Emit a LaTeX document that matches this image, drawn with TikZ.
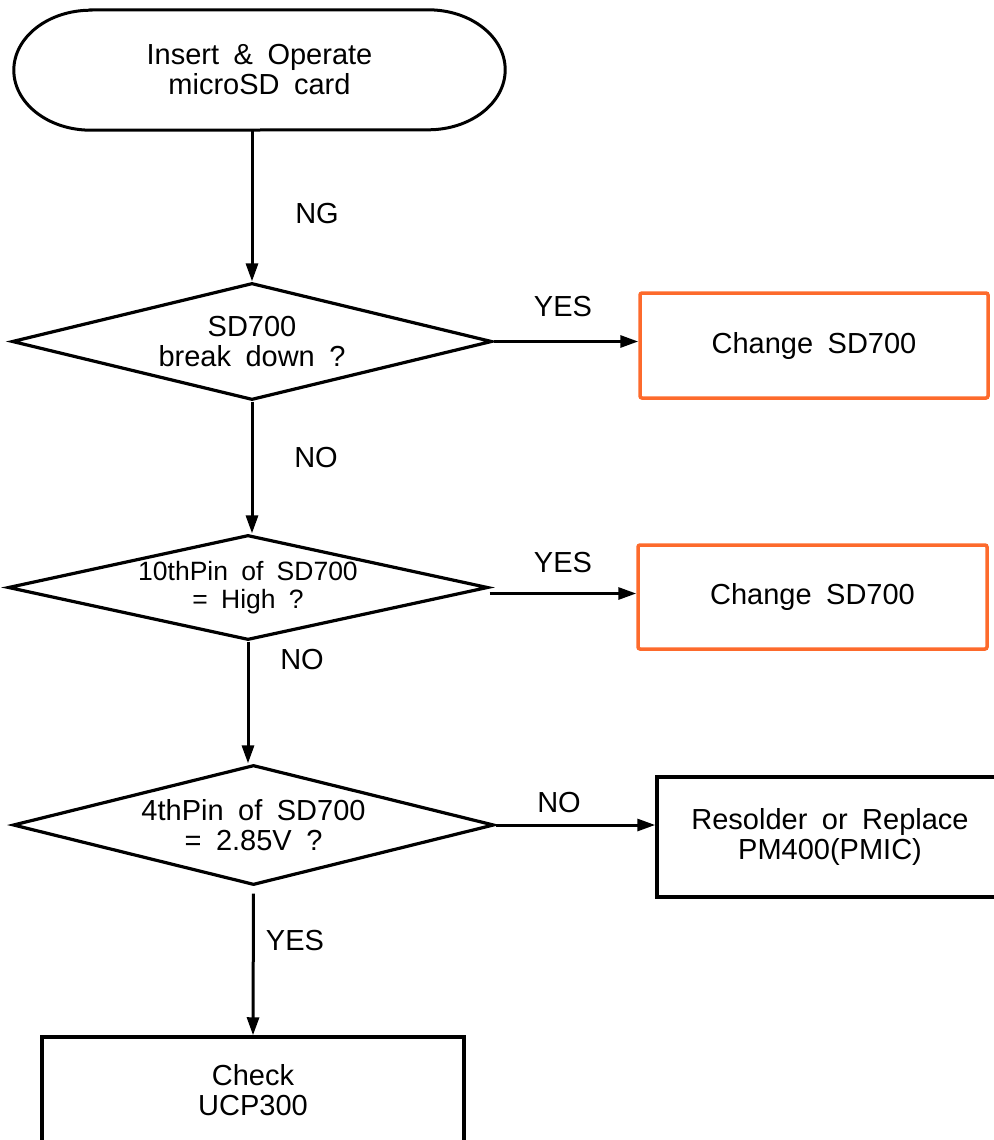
\documentclass[tikz,border=0pt]{standalone}
\usepackage{fontspec}
\setmainfont{Liberation Sans}[WordSpace=1.8]
\usetikzlibrary{shapes.geometric,arrows.meta}
\definecolor{orng}{RGB}{253,106,44}
\begin{document}
\begin{tikzpicture}[x=1pt,y=-1pt,
  txt/.style={font=\fontsize{29}{30}\selectfont, align=center, text=black},
  ntxt/.style={font=\fontsize{26.5}{28}\selectfont, align=center, text=black},
  term/.style={rectangle, minimum width=491pt, minimum height=120pt, inner sep=0pt, txt},
  dec/.style={diamond, draw, line width=3.2pt, inner sep=0pt, miter limit=20},
  procbox/.style={rectangle, draw, line width=3.5pt, inner sep=0pt, txt},
  obox/.style={procbox, draw=orng, rounded corners=2pt},
  arr/.style={line width=3pt, -{Triangle[length=18pt,width=12pt]}},
  lbl/.style={txt, inner sep=0pt},
]
\useasboundingbox (0,0) rectangle (993,1140);
% nodes
\node[term] (start) at (259.5,70) {Insert \& Operate\\microSD card};
\draw[line width=3pt] ([xshift=77pt]start.north west) -- ([xshift=-77pt]start.north east)
  arc[start angle=90, end angle=-90, x radius=77pt, y radius=60pt]
  -- ([xshift=77pt]start.south west)
  arc[start angle=270, end angle=90, x radius=77pt, y radius=60pt] -- cycle;

\node[dec, minimum width=480pt, minimum height=117pt,
  label={[txt]center:{SD700\\break down ?}}] (d1) at (252,341.5) {};
\node[obox, minimum width=348pt, minimum height=105pt] (b1) at (814,345.5) {Change SD700};

\node[dec, minimum width=480pt, minimum height=105pt,
  label={[ntxt]center:{10thPin of SD700\\= High ?}}] (d2) at (248,587.5) {};
\node[obox, minimum width=349pt, minimum height=104pt] (b2) at (812.5,597) {Change SD700};

\node[dec, minimum width=481pt, minimum height=120pt,
  label={[txt]center:{4thPin of SD700\\= 2.85V ?}}] (d3) at (253.5,825) {};
\node[procbox, minimum width=346pt, minimum height=120pt] (b3) at (830,837) {Resolder or Replace\\PM400(PMIC)};

\node[procbox, minimum width=422pt, minimum height=106pt] (b4) at (253,1090) {Check\\UCP300};

% connectors
\draw[arr] (d1.north |- start.south) -- (d1.north);
\draw[arr] (d1.east) -- (d1.east -| b1.west);
\draw[arr] (d1.south) -- (d1.south |- d2.north);
\draw[arr] ([yshift=-6pt]d2.east) -- ([yshift=-6pt]d2.east -| b2.west);
\draw[arr] (d2.south) -- (d2.south |- d3.north);
\draw[arr] (d3.east) -- (d3.east -| b3.west);
\draw[arr, shorten <=7pt] (d3.south) -- (b4.north);

% labels
\node[lbl] (lng) at (317,214) {NG};
\node[lbl] (ly1) at (563,307) {YES};
\node[lbl] (ln1) at (316,458) {NO};
\node[lbl] (ly2) at (563,563) {YES};
\node[lbl] (ln2) at (302,660) {NO};
\node[lbl] (ln3) at (559,803) {NO};
\node[lbl] (ly3) at (295,941) {YES};
\end{tikzpicture}
\end{document}
